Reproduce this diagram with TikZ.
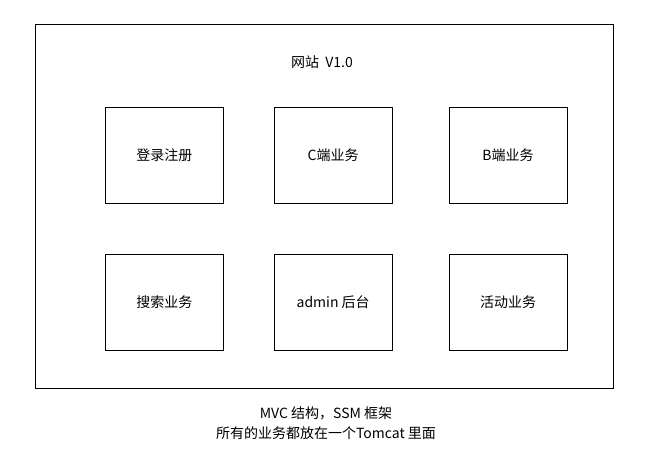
\documentclass[tikz,border=0pt]{standalone}
\usepackage{fontspec}
\setmainfont{Noto Sans CJK SC}
\usetikzlibrary{positioning}
\tikzset{wb/.style={draw,rectangle,fill=white,minimum width=118pt,minimum height=96pt,inner
sep=1pt,line width=0.8pt}}
\tikzset{fr/.style={draw,rectangle,minimum width=578pt,minimum height=364pt,line width=0.8pt}}
\tikzset{tx/.style={font=\fontsize{14pt}{20pt}\selectfont}}

\begin{document}
\begin{tikzpicture}[x=1pt, y=-1pt]
\useasboundingbox (0,0) rectangle (646,462);
\node [fr] (site) at (324, 206) {};
\node [tx] (ttl) at (322, 62) {网站 \ V1.0};

\node [wb, tx, anchor=north west] (ba) at (105, 107) {登录注册};
\node [wb, tx, right=50pt of ba] (bb) {C端业务};
\node [wb, tx, right=56pt of bb] (bc) {B端业务};

\node [wb, tx, below=50pt of ba] (bd) {搜索业务};
\node [wb, tx, below=50pt of bb] (be) {admin 后台};
\node [wb, tx, below=50pt of bc] (bf) {活动业务};

\node [tx, align=center] (cap) at (326, 423) {MVC 结构，SSM 框架\\所有的业务都放在一个Tomcat 里面};
\end{tikzpicture}
\end{document}
